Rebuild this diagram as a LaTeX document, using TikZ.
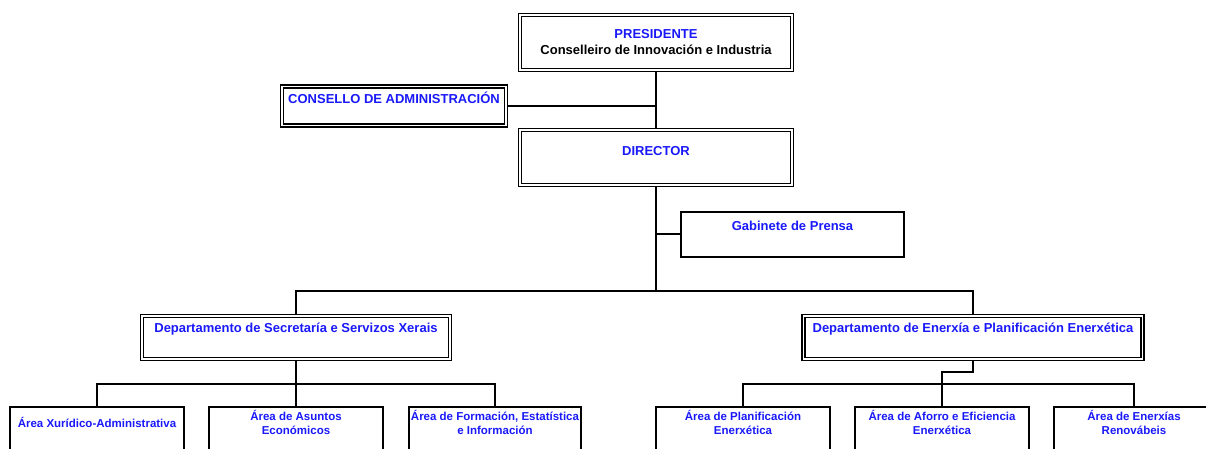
\documentclass[tikz,border=0pt]{standalone}
\usepackage{fontspec}
\setmainfont{Liberation Sans}
\definecolor{txtblue}{RGB}{25,25,250}
\tikzset{
  dbox/.style={draw=black, line width=1.5pt, double=white, double distance=1.2pt, fill=white, outer sep=2.1pt, inner sep=0pt, rectangle},
  sbox/.style={draw=black, line width=2pt, fill=white, inner sep=0pt, rectangle},
  conn/.style={draw=black, line width=2pt},
  toptxt/.style={anchor=base, inner sep=0pt, text=txtblue, font=\fontsize{13}{15}\selectfont\bfseries},
  bottxt/.style={anchor=base, inner sep=0pt, text=txtblue, align=center, font=\fontsize{11.5}{14}\selectfont\bfseries},
}
\begin{document}
\begin{tikzpicture}[x=1pt,y=-1pt]
\clip (0,0) rectangle (1206,448);
\fill[white] (0,0) rectangle (1206,448);
% boxes
\node[dbox, minimum width=272pt, minimum height=55pt] (pres) at (656,42.5) {};
\node[dbox, minimum width=224pt, minimum height=39pt] (cons) at (394,106) {};
\node[dbox, minimum width=272pt, minimum height=55pt] (dir) at (656,157.5) {};
\node[sbox, minimum width=223pt, minimum height=45pt] (gab) at (792.5,234) {};
\node[dbox, minimum width=308pt, minimum height=43pt] (sec) at (296,337.5) {};
\node[dbox, minimum width=339pt, minimum height=43pt] (ene) at (973,337.5) {};
\node[sbox, minimum width=174pt, minimum height=80pt] (xur) at (97,447) {};
\node[sbox, minimum width=174pt, minimum height=80pt] (ase) at (296,447) {};
\node[sbox, minimum width=172pt, minimum height=80pt] (for) at (495,447) {};
\node[sbox, minimum width=174pt, minimum height=80pt] (pla) at (743,447) {};
\node[sbox, minimum width=174pt, minimum height=80pt] (afo) at (942,447) {};
\node[sbox, minimum width=160pt, minimum height=80pt] (ren) at (1134,447) {};
% helper coordinates
\coordinate (tb) at (656,291);
\coordinate (lb) at (296,384);
\coordinate (rj) at (973,372);
\coordinate (rb) at (942,384);
% connectors
\draw[conn] (pres.south) -- (dir.north);
\draw[conn] (cons.east) -- (cons.east -| pres.south);
\draw[conn] (dir.south) -- (tb);
\draw[conn] (gab.west) -- (gab.west -| dir.south);
\draw[conn] (sec.north) |- (tb) -| (ene.north);
\draw[conn] (sec.south) -- (ase.north);
\draw[conn] (xur.north) |- (lb) -| (for.north);
\draw[conn] (ene.south) -- (rj) -| (afo.north);
\draw[conn] (pla.north) |- (rb) -| (ren.north);
% texts
\node[toptxt] (presT) at (656,38.7) {PRESIDENTE};
\node[toptxt, text=black] (presT2) at (656,54.7) {Conselleiro de Innovación e Industria};
\node[toptxt] (consT) at (394,103.7) {CONSELLO DE ADMINISTRACIÓN};
\node[toptxt] (dirT) at (656,155.7) {DIRECTOR};
\node[toptxt] (gabT) at (792.5,230.7) {Gabinete de Prensa};
\node[toptxt] (secT) at (296,332.7) {Departamento de Secretaría e Servizos Xerais};
\node[toptxt] (eneT) at (973,332.7) {Departamento de Enerxía e Planificación Enerxética};
\node[bottxt] (xurT) at (97,427) {Área Xurídico-Administrativa};
\node[bottxt] (aseT) at (296,434) {Área de Asuntos\\Económicos};
\node[bottxt] (forT) at (495,434) {Área de Formación, Estatística\\e Información};
\node[bottxt] (plaT) at (743,434) {Área de Planificación\\Enerxética};
\node[bottxt] (afoT) at (942,434) {Área de Aforro e Eficiencia\\Enerxética};
\node[bottxt] (renT) at (1134,434) {Área de Enerxías\\Renovábeis};
\end{tikzpicture}
\end{document}
